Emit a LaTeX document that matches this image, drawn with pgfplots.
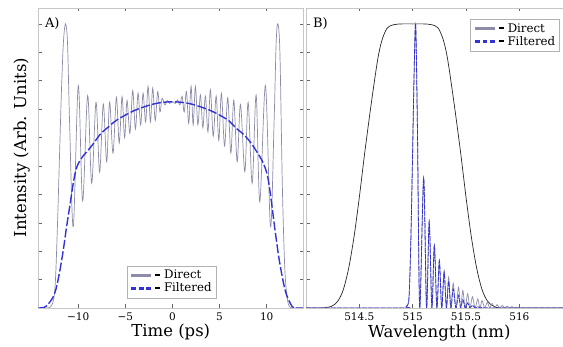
\documentclass[border=0pt]{standalone}
\usepackage{fontspec}
\setmainfont{DejaVu Serif}
\usepackage{pgfplots}
\pgfplotsset{compat=1.18}
\definecolor{directc}{RGB}{140,140,168}
\definecolor{filtc}{RGB}{50,50,215}
\newcommand{\blk}{\rule[0.27em]{5pt}{2.2pt}}
\newcommand{\dirimg}{\textcolor{directc}{\rule[0.2em]{20pt}{3pt}}\hspace{4pt}}
\newcommand{\filimg}{\textcolor{filtc}{\rule[0.2em]{4.6pt}{3pt}\hspace{2.9pt}\rule[0.2em]{4.6pt}{3pt}\hspace{2.9pt}\rule[0.2em]{4.6pt}{3pt}}\hspace{4.2pt}}
\begin{document}
\begin{tikzpicture}
\path[use as bounding box] (-38.5pt,-39pt) rectangle (524.5pt,308pt);
\pgfplotsset{
  panel/.style={
    scale only axis, height=300pt, anchor=south west,
    ymin=0, ymax=1.056,
    ytick={0,0.1,0.2,0.3,0.4,0.5,0.6,0.7,0.8,0.9,1.0}, yticklabels={},
    tick align=inside, xtick pos=both, ytick pos=both,
    major tick length=3.5pt,
    axis line style={draw=gray!45},
    tick style={draw=gray!80!black, line width=0.5pt},
    ticklabel style={font=\fontsize{10.5}{12}\selectfont},
    xticklabel style={yshift=-1pt},
    label style={font=\fontsize{16.5}{19}\selectfont},
    legend cell align=left,
    legend style={draw=gray!60, fill=white, font=\fontsize{11.8}{13}\selectfont,
      inner sep=2.5pt, row sep=-1.5pt},
  }
}
% ---------------- Panel A ----------------
\begin{axis}[panel, at={(0pt,0pt)}, width=264.5pt,
  xmin=-14.2, xmax=13.85,
  xtick={-10,-5,0,5,10}, xticklabels={\textminus10,\textminus5,0,5,10},
  xlabel={Time (ps)}, ylabel={Intensity (Arb. Units)},
  xlabel style={at={(axis description cs:0.5,-0.0957)}, anchor=base},
  ylabel style={at={(axis description cs:-0.064,0.535)}, anchor=center},
  legend style={at={(0.503,0.033)}, anchor=south}]
\addlegendimage{empty legend}
\addlegendentry{\dirimg\blk\ Direct}
\addlegendimage{empty legend}
\addlegendentry{\filimg\blk\ Filtered}
\addplot[forget plot, directc, line width=0.7pt, smooth, tension=0.55] coordinates {
(-14.2,0) (-13.3,0) (-12.9,0.005) (-12.6,0.03) (-12.4,0.1) (-12.18,0.3) (-11.95,0.56)
(-11.75,0.78) (-11.55,0.94) (-11.33,1.0) (-11.12,0.93) (-10.9,0.65) (-10.51,0.286)
(-9.98,0.783) (-9.52,0.377) (-8.99,0.748) (-8.56,0.439) (-8.10,0.724) (-7.72,0.478)
(-7.33,0.718) (-6.97,0.515) (-6.66,0.725) (-6.30,0.545) (-5.94,0.742) (-5.64,0.58)
(-5.34,0.744) (-5.07,0.60) (-4.81,0.73) (-4.51,0.615) (-4.21,0.765) (-3.92,0.63)
(-3.64,0.756) (-3.37,0.645) (-3.11,0.756) (-2.84,0.655) (-2.58,0.78) (-2.33,0.655)
(-2.09,0.774) (-1.82,0.66) (-1.56,0.762) (-1.32,0.69) (-1.09,0.738) (-0.8,0.715)
(-0.55,0.73) (-0.3,0.72) (0,0.726)
(0.3,0.72) (0.55,0.732) (0.8,0.715) (1.03,0.745) (1.25,0.69) (1.49,0.762) (1.73,0.65)
(1.98,0.78) (2.2,0.645) (2.44,0.78) (2.7,0.645) (2.97,0.75) (3.23,0.635) (3.50,0.746)
(3.77,0.62) (4.03,0.768) (4.33,0.605) (4.64,0.746) (4.92,0.59) (5.2,0.756) (5.53,0.57)
(5.87,0.74) (6.2,0.545) (6.51,0.732) (6.87,0.515) (7.22,0.717) (7.68,0.48) (8.03,0.724)
(8.46,0.439) (8.88,0.75) (9.27,0.374) (9.87,0.783) (10.4,0.286) (10.78,0.65) (11.0,0.93)
(11.18,1.0) (11.4,0.9) (11.65,0.445) (11.85,0.2) (12.0,0.093) (12.2,0.03) (12.4,0.005)
(12.8,0) (13.85,0)
};
\addplot[forget plot, filtc, line width=1.4pt, dash pattern=on 9pt off 2.5pt, smooth] coordinates {
(-14.2,0) (-13.6,0.002) (-13.16,0.014) (-12.63,0.04) (-12.28,0.075) (-11.92,0.134)
(-11.57,0.204) (-11.22,0.286) (-10.86,0.363) (-10.51,0.44) (-10.16,0.494) (-9.63,0.528)
(-8.92,0.556) (-8.39,0.578) (-7.64,0.612) (-6.8,0.637) (-5.87,0.662) (-4.11,0.694)
(-2.34,0.715) (-1.2,0.723) (0,0.726) (1.2,0.723) (2.34,0.715) (4.11,0.694) (5.87,0.662)
(6.69,0.635) (7.64,0.608) (8.46,0.575) (9.52,0.518) (10.05,0.47) (10.4,0.40) (10.86,0.28)
(11.36,0.163) (12.0,0.057) (12.7,0.005) (13.2,0) (13.85,0)
};
\node[anchor=north west, font=\fontsize{13}{15}\selectfont, inner sep=0pt] at (rel axis cs:0.024,0.968) {A)};
\end{axis}
% ---------------- Panel B ----------------
\begin{axis}[panel, at={(267.5pt,0pt)}, width=266.7pt,
  xmin=514, xmax=516.5,
  xtick={514.5,515,515.5,516}, xticklabels={514.5,515,515.5,516},
  xlabel={Wavelength (nm)},
  xlabel style={at={(axis description cs:0.5,-0.1)}, anchor=base},
  legend style={at={(0.952,0.963)}, anchor=north east}]
\addlegendimage{empty legend}
\addlegendentry{\dirimg\blk\ Direct}
\addlegendimage{empty legend}
\addlegendentry{\filimg\blk\ Filtered}
\addplot[forget plot, black!85, line width=0.7pt, smooth] coordinates {
(514.0,0) (514.14,0) (514.24,0.006) (514.30,0.025) (514.35,0.065) (514.40,0.14)
(514.45,0.25) (514.50,0.39) (514.55,0.545) (514.61,0.715) (514.67,0.87) (514.71,0.94)
(514.76,0.985) (514.82,0.997) (514.9,1.0) (515.0,1.0) (515.1,1.0) (515.18,0.997) (515.24,0.985)
(515.29,0.94) (515.33,0.87) (515.39,0.715) (515.45,0.545) (515.50,0.39) (515.55,0.25)
(515.60,0.14) (515.65,0.065) (515.70,0.025) (515.76,0.006) (515.86,0) (516.5,0)
};
\addplot[forget plot, directc, line width=0.7pt, smooth] coordinates {
(514.0,0) (514.9,0) (514.94,0.005) (514.965,0.034) (514.981,0.21) (514.997,0.50)
(515.012,0.80) (515.028,1.0) (515.045,0.62) (515.066,0)
(515.103,0.457) (515.13,0) (515.155,0.305) (515.18,0) (515.203,0.222) (515.227,0)
(515.25,0.169) (515.272,0) (515.295,0.132) (515.316,0) (515.337,0.108) (515.358,0)
(515.38,0.087) (515.405,0) (515.43,0.073) (515.45,0) (515.47,0.062) (515.492,0)
(515.515,0.05) (515.537,0) (515.56,0.04) (515.585,0) (515.61,0.032) (515.63,0)
(515.65,0.026) (515.675,0) (515.70,0.02) (515.722,0) (515.745,0.016) (515.768,0)
(515.79,0.012) (515.815,0) (515.84,0.009) (515.862,0) (515.885,0.007) (515.908,0)
(515.93,0.005) (515.952,0) (515.975,0.003) (516.0,0) (516.5,0)
};
\addplot[forget plot, filtc, line width=0.8pt, dash pattern=on 5pt off 1.2pt, smooth] coordinates {
(514.0,0) (514.9,0) (514.94,0.005) (514.965,0.034) (514.981,0.21) (514.997,0.50)
(515.012,0.80) (515.028,1.0) (515.045,0.62) (515.066,0)
(515.103,0.457) (515.13,0) (515.155,0.304) (515.18,0) (515.203,0.22) (515.227,0)
(515.25,0.166) (515.272,0) (515.295,0.125) (515.316,0) (515.337,0.095) (515.358,0)
(515.38,0.067) (515.405,0) (515.43,0.044) (515.45,0) (515.47,0.030) (515.492,0)
(515.515,0.018) (515.537,0) (515.56,0.010) (515.585,0) (515.61,0.005) (515.63,0)
(515.65,0.002) (515.675,0) (515.70,0.0005) (515.722,0) (516.5,0)
};
\node[anchor=north west, font=\fontsize{13}{15}\selectfont, inner sep=0pt] at (rel axis cs:0.026,0.968) {B)};
\end{axis}
\end{tikzpicture}
\end{document}
